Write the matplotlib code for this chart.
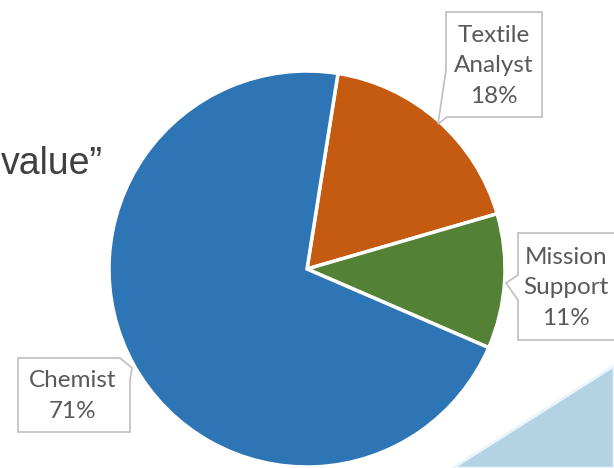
import matplotlib
matplotlib.use("Agg")
import matplotlib.pyplot as plt
from matplotlib.patches import Polygon

categories = ["Textile\nAnalyst", "Mission\nSupport", "Chemist"]
values = [18, 11, 71]
colors = ["#C55A11", "#538135", "#2E75B6"]

W, H = 614, 468
fig = plt.figure(figsize=(W / 100, H / 100), dpi=100)
fig.patch.set_facecolor("white")

# background slide elements
bg = fig.add_axes([0, 0, 1, 1], zorder=0)
bg.set_xlim(0, W); bg.set_ylim(H, 0); bg.axis("off")
bg.add_patch(Polygon([(614, 366), (453, 468), (614, 468)], closed=True,
                     facecolor="#B3D3E5", edgecolor="#EAF4FA", lw=2))
bg.text(1, 174, "value\u201d", fontsize=27, color="#404040",
        family="Liberation Sans", ha="left", va="baseline")

# pie
cx, cy, r = 307, 269, 198
ax = fig.add_axes([(cx - r) / W, (H - cy - r) / H, 2 * r / W, 2 * r / H], zorder=1)
ax.pie(values, colors=colors, startangle=81, counterclock=False,
       wedgeprops=dict(edgecolor="white", linewidth=2.5))
ax.set_xlim(-1, 1); ax.set_ylim(-1, 1)
ax.set_aspect("equal")
ax.axis("off")

# callouts in pixel coords
ov = fig.add_axes([0, 0, 1, 1], zorder=2)
ov.set_xlim(0, W); ov.set_ylim(H, 0); ov.axis("off")
ov.patch.set_alpha(0)

def callout(poly, xy, text):
    ov.add_patch(Polygon(poly, closed=True, facecolor="white",
                         edgecolor="#BFBFBF", lw=1.2))
    ov.text(xy[0], xy[1], text, ha="center", va="center", fontsize=17.5,
            color="#595959", family="Lato", linespacing=1.55)

labels = [f"{c}\n{v}%" for c, v in zip(categories, values)]
# Textile Analyst
callout([(446, 12), (542, 12), (542, 117), (447, 117), (438, 124), (446, 70)],
        (494, 66), labels[0])
# Mission Support
callout([(518, 233), (620, 233), (620, 340), (518, 340), (518, 300), (506, 283), (518, 275)],
        (566, 288), labels[1])
# Chemist
callout([(18, 358), (120, 358), (132, 368), (130, 380), (130, 432), (18, 432)],
        (73, 396), labels[2])

fig.savefig("out.png", dpi=100)
